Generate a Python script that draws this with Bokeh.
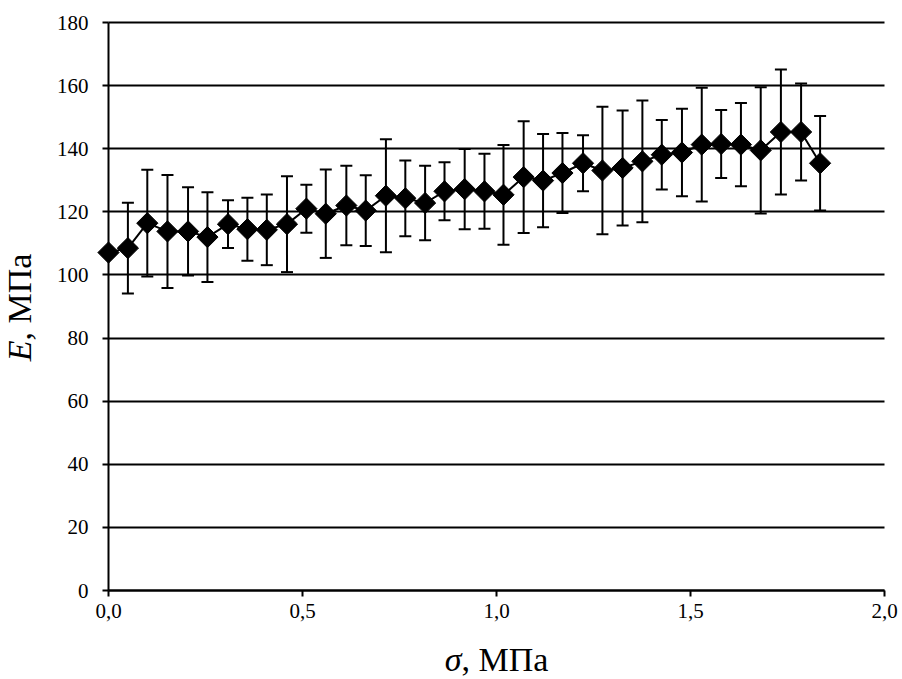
import math
from bokeh.plotting import figure
from bokeh.models import (ColumnDataSource, Whisker, TeeHead, FixedTicker, Label,
                          Range1d, CustomJSTickFormatter, Grid)
from bokeh.embed import file_html
from bokeh.resources import INLINE

# --- data ---
sigma = [0.000, 0.050, 0.100, 0.152, 0.205, 0.255, 0.308, 0.358, 0.408, 0.460,
         0.510, 0.560, 0.613, 0.663, 0.715, 0.765, 0.816, 0.866, 0.918, 0.969,
         1.018, 1.070, 1.120, 1.170, 1.223, 1.273, 1.325, 1.376, 1.426, 1.478,
         1.529, 1.579, 1.630, 1.681, 1.733, 1.785, 1.834]
E_mean = [107.1, 108.5, 116.4, 113.8, 113.8, 112.0, 116.1, 114.5, 114.3, 116.1,
          121.0, 119.4, 122.0, 120.4, 125.1, 124.3, 122.8, 126.5, 127.2, 126.5,
          125.4, 131.0, 129.9, 132.3, 135.4, 133.1, 133.9, 136.0, 138.1, 138.8,
          141.3, 141.5, 141.3, 139.5, 145.3, 145.3, 135.4]
E_err = [0.0, 14.4, 16.9, 17.9, 14.0, 14.2, 7.6, 10.0, 11.2, 15.2,
         7.6, 14.0, 12.6, 11.2, 17.9, 12.0, 11.8, 9.2, 12.7, 11.9,
         15.8, 17.7, 14.8, 12.7, 8.9, 20.2, 18.2, 19.3, 11.0, 13.9,
         18.0, 10.8, 13.2, 20.0, 19.8, 15.4, 15.0]
x_ticks = [0.0, 0.5, 1.0, 1.5, 2.0]
y_ticks = [0, 20, 40, 60, 80, 100, 120, 140, 160, 180]

FONT = "Liberation Serif"
W, H = 902, 679
# plot-area placement on the canvas (pixels)
PX_L, PX_R, PX_T, PX_B = 108, 884, 22, 590
X0, X1 = x_ticks[0], x_ticks[-1]
Y0, Y1 = y_ticks[0], y_ticks[-1]
sx = (PX_R - PX_L) / (X1 - X0)
sy = (PX_B - PX_T) / (Y1 - Y0)
x_range = Range1d(X0 - PX_L / sx, X1 + (W - PX_R) / sx)
y_range = Range1d(Y0 - (H - PX_B) / sy, Y1 + PX_T / sy)

src = ColumnDataSource(dict(
    x=sigma, y=E_mean,
    lower=[m - e for m, e in zip(E_mean, E_err)],
    upper=[m + e for m, e in zip(E_mean, E_err)],
))

p = figure(width=W, height=H, x_range=x_range, y_range=y_range,
           output_backend="svg", toolbar_location=None,
           min_border=0, min_border_left=0, min_border_right=0,
           min_border_top=0, min_border_bottom=0)
p.outline_line_color = None
p.background_fill_color = "white"
p.border_fill_color = "white"

for ax in (p.xaxis[0], p.yaxis[0]):
    ax.fixed_location = 0
    ax.axis_line_color = "black"
    ax.axis_line_width = 2
    ax.major_tick_line_color = "black"
    ax.major_tick_line_width = 2
    ax.major_tick_out = 6
    ax.major_tick_in = 0
    ax.minor_tick_line_color = None
    ax.major_label_text_font = FONT
    ax.major_label_text_font_size = "21px"
    ax.major_label_text_color = "black"

p.xaxis.bounds = (X0, X1)
p.yaxis.bounds = (Y0, Y1)
p.xaxis.ticker = FixedTicker(ticks=x_ticks)
p.xaxis.formatter = CustomJSTickFormatter(code="return tick.toFixed(1).replace('.', ',');")
p.xaxis.major_label_standoff = 7
p.yaxis.ticker = FixedTicker(ticks=y_ticks)
p.yaxis.major_label_standoff = 14

# horizontal grid lines
p.xgrid.visible = False
if "cross_bounds" in Grid.properties():
    g = p.ygrid[0]
    g.ticker = FixedTicker(ticks=y_ticks)
    g.bounds = (Y0, Y1)
    g.cross_bounds = (X0, X1)
    g.grid_line_color = "black"
    g.grid_line_width = 2
else:
    p.ygrid.visible = False
    p.segment(x0=[X0] * len(y_ticks), x1=[X1] * len(y_ticks), y0=y_ticks, y1=y_ticks,
              line_color="black", line_width=2, level="underlay")

whisk = Whisker(source=src, base="x", lower="lower", upper="upper",
                line_color="black", line_width=2,
                upper_head=TeeHead(size=12, line_color="black", line_width=2),
                lower_head=TeeHead(size=12, line_color="black", line_width=2))
p.add_layout(whisk)

p.line("x", "y", source=src, line_color="black", line_width=2)
p.scatter("x", "y", source=src, marker="square", angle=math.pi / 4, size=15,
          fill_color="black", line_color="black")

# axis titles (italic symbol + upright units), canvas-relative screen units
LS = "34px"
p.add_layout(Label(x=461, y=20, x_units="screen", y_units="screen", text="σ",
                   text_font=FONT, text_font_size=LS, text_font_style="italic",
                   text_align="right", text_baseline="alphabetic", text_color="black"))
p.add_layout(Label(x=461, y=20, x_units="screen", y_units="screen", text=", МПа",
                   text_font=FONT, text_font_size=LS, text_align="left",
                   text_baseline="alphabetic", text_color="black"))
p.add_layout(Label(x=19, y=339, x_units="screen", y_units="screen", text="E",
                   angle=math.pi / 2, text_font=FONT, text_font_size=LS,
                   text_font_style="italic", text_align="right",
                   text_baseline="alphabetic", text_color="black"))
p.add_layout(Label(x=19, y=339, x_units="screen", y_units="screen", text=", МПа",
                   angle=math.pi / 2, text_font=FONT, text_font_size=LS,
                   text_align="left", text_baseline="alphabetic", text_color="black"))

open("out.html", "w").write(file_html(p, INLINE))
